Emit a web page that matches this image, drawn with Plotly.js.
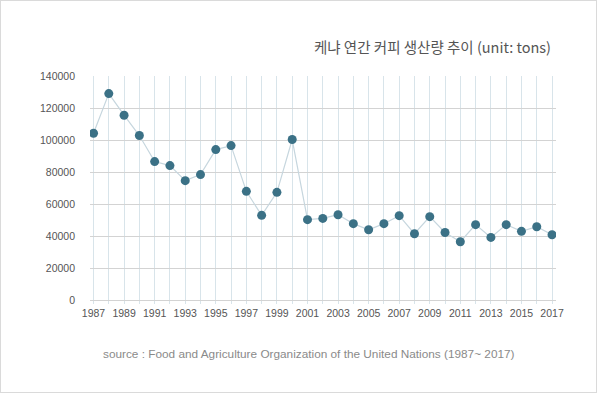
<!DOCTYPE html>
<html>
<head>
<meta charset="utf-8">
<script src="https://cdn.plot.ly/plotly-3.0.1.min.js"></script>
<style>
html,body{margin:0;padding:0;background:#fff;}
#wrap{position:relative;width:597px;height:393px;}
#chart{width:597px;height:393px;}
#frame{position:absolute;left:0;top:0;width:597px;height:393px;box-sizing:border-box;border:1px solid #dadada;pointer-events:none;}
</style>
</head>
<body>
<div id="wrap"><div id="chart"></div><div id="frame"></div></div>
<script>
const years = [1987,1988,1989,1990,1991,1992,1993,1994,1995,1996,1997,1998,1999,2000,2001,2002,2003,2004,2005,2006,2007,2008,2009,2010,2011,2012,2013,2014,2015,2016,2017];
const production = [104200,129000,115500,102800,86500,84000,74600,78400,94000,96500,67900,52900,67300,100300,50200,51000,53300,47700,43900,47700,52700,41400,52100,42200,36400,47100,39100,47100,42900,45800,40800];
const xTickLabels = ['1987','','1989','','1991','','1993','','1995','','1997','','1999','','2001','','2003','','2005','','2007','','2009','','2011','','2013','','2015','','2017'];
const yTickVals = [0,20000,40000,60000,80000,100000,120000,140000];
const yTickLabels = ['0','20000','40000','60000','80000','100000','120000','140000'];
const titleText = '케냐 연간 커피 생산량 추이 (unit: tons)';
const sourceText = 'source : Food and Agriculture Organization of the United Nations (1987~ 2017)';

const trace = {
  x: years, y: production, type: 'scatter', mode: 'lines+markers',
  line: {color: '#c6d6de', width: 1.2},
  marker: {color: '#3b7186', size: 9},
  hoverinfo: 'x+y'
};
const layout = {
  width: 597, height: 393,
  margin: {l: 90, r: 41, t: 76, b: 93},
  paper_bgcolor: '#ffffff', plot_bgcolor: '#ffffff',
  showlegend: false,
  font: {family: 'Liberation Sans, Arial, sans-serif', color: '#555'},
  title: {
    text: titleText, xref: 'container', x: 551/597, xanchor: 'right',
    yref: 'container', y: 1 - 48/393, yanchor: 'middle',
    font: {family: 'Noto Sans CJK KR, Noto Sans, sans-serif', size: 14.5, color: '#555555'}
  },
  xaxis: {
    range: [1986.77, 2017.26], tickvals: years, ticktext: xTickLabels,
    showgrid: true, gridcolor: '#d8e4ea', gridwidth: 1,
    ticks: 'outside', ticklen: 3, tickcolor: '#d8e4ea', tickwidth: 1,
    showline: false, zeroline: false,
    tickfont: {size: 10.5, color: '#555'}, tickangle: 0,
    fixedrange: true
  },
  yaxis: {
    range: [0, 140000], tickvals: yTickVals, ticktext: yTickLabels,
    showgrid: true, gridcolor: '#d3d3d3', gridwidth: 1,
    zeroline: true, zerolinecolor: '#d3d3d3', zerolinewidth: 1,
    showline: false, ticks: '', ticklabelstandoff: 14,
    tickfont: {size: 10.5, color: '#555'},
    fixedrange: true
  },
  annotations: [{
    text: sourceText, xref: 'paper', yref: 'paper',
    x: (101 - 90) / 466, xanchor: 'left', y: (300 - 354) / 224, yanchor: 'middle',
    showarrow: false, font: {size: 11.8, color: '#8a8a8a'}
  }]
};
Plotly.newPlot('chart', [trace], layout, {displayModeBar: false, staticPlot: true});
</script>
</body>
</html>
